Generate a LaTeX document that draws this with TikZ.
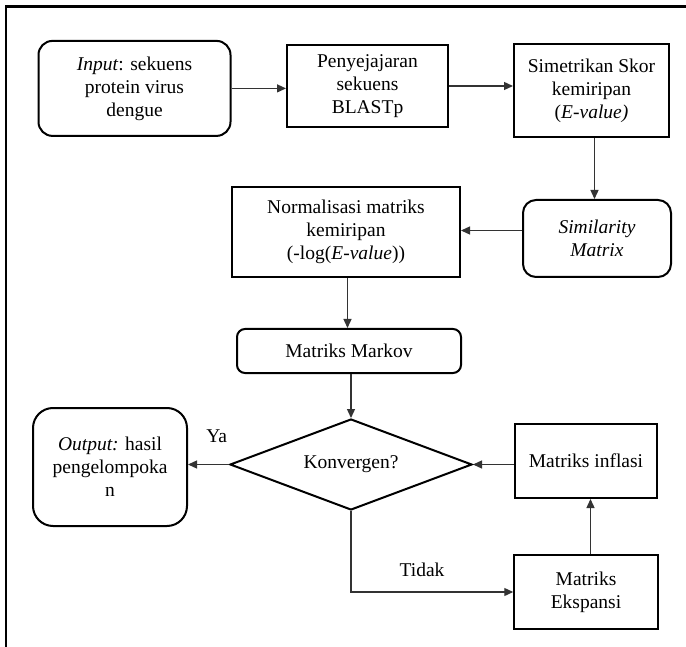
\documentclass[tikz,border=0pt]{standalone}
\usepackage{fontspec}
\setmainfont{Liberation Serif}
\usetikzlibrary{shapes.geometric,arrows.meta}
\begin{document}
\begin{tikzpicture}[x=1pt,y=-1pt,
  every node/.style={font=\fontsize{19.5}{23}\selectfont, align=center, inner sep=0pt},
  box/.style={draw, line width=2pt, rectangle},
  rbox/.style={box, rounded corners=#1},
  decision/.style={draw, line width=2pt, diamond, aspect=2.66},
  arr/.style={draw=black!80, line width=1.3pt, -{Triangle[length=9pt,width=8pt]}},
  frame/.style={line width=2.5pt}]
\useasboundingbox (0,0) rectangle (686,647);

% outer frame (open to the right and bottom)
\draw[frame] (6,660) -- (6,6.5) -- (700,6.5);

% top row
\node[rbox=14pt, minimum width=192pt, minimum height=95pt] (in) at (134.5,88.4)
  {\textit{Input}: sekuens\\protein virus\\dengue};
\node[box, minimum width=161pt, minimum height=82pt] (blast) at (367.5,86)
  {Penyejajaran\\sekuens\\BLASTp};
\node[box, minimum width=155pt, minimum height=93pt] (sym) at (591.5,90.5)
  {Simetrikan Skor\\kemiripan\\(\textit{E-value)}};

% second row
\node[rbox=13pt, minimum width=148pt, minimum height=77pt] (simm) at (597,238.5)
  {\textit{Similarity}\\\textit{Matrix}};
\node[box, minimum width=228pt, minimum height=90pt] (norm) at (346,232)
  {Normalisasi matriks\\kemiripan\\(-log(\textit{E-value}))};

% Markov matrix
\node[rbox=8pt, minimum width=224pt, minimum height=44pt] (markov) at (349,351)
  {Matriks Markov};

% convergence loop
\node[decision, minimum width=242pt, minimum height=91pt] (dia) at (351,464.5)
  {Konvergen?};
\node[rbox=20pt, minimum width=154pt, minimum height=118pt] (out) at (110,467)
  {\textit{Output:} hasil\\pengelompoka\\n};
\node[box, minimum width=142.5pt, minimum height=74pt] (infl) at (586,461)
  {Matriks inflasi};
\node[box, minimum width=143.5pt, minimum height=74pt] (eksp) at (586,592)
  {Matriks\\Ekspansi};

\node (ya) at (216.7,436.7) {Ya};
\node (tidak) at (422,570) {Tidak};

% connectors
\draw[arr] (in.east) -- (in.east -| blast.west);
\draw[arr] (blast.east) -- (blast.east -| sym.west);
\draw[arr] ([xshift=3pt]sym.south) -- ([xshift=3pt]sym.south |- simm.north);
\draw[arr] ([yshift=8pt]simm.west) -- ([yshift=8pt]simm.west -| norm.east);
\draw[arr] ([xshift=1.5pt]norm.south) -- ([xshift=1.5pt]norm.south |- markov.north);
\draw[arr] (markov.south -| dia.north) -- (dia.north);
\draw[arr] (dia.west) -- (dia.west -| out.east);
\draw[arr] (dia.east -| infl.west) -- (dia.east);
\draw[arr] ([xshift=4.5pt]eksp.north) -- ([xshift=4.5pt]eksp.north |- infl.south);
\draw[arr] (dia.south) |- (eksp.west);
\end{tikzpicture}
\end{document}
